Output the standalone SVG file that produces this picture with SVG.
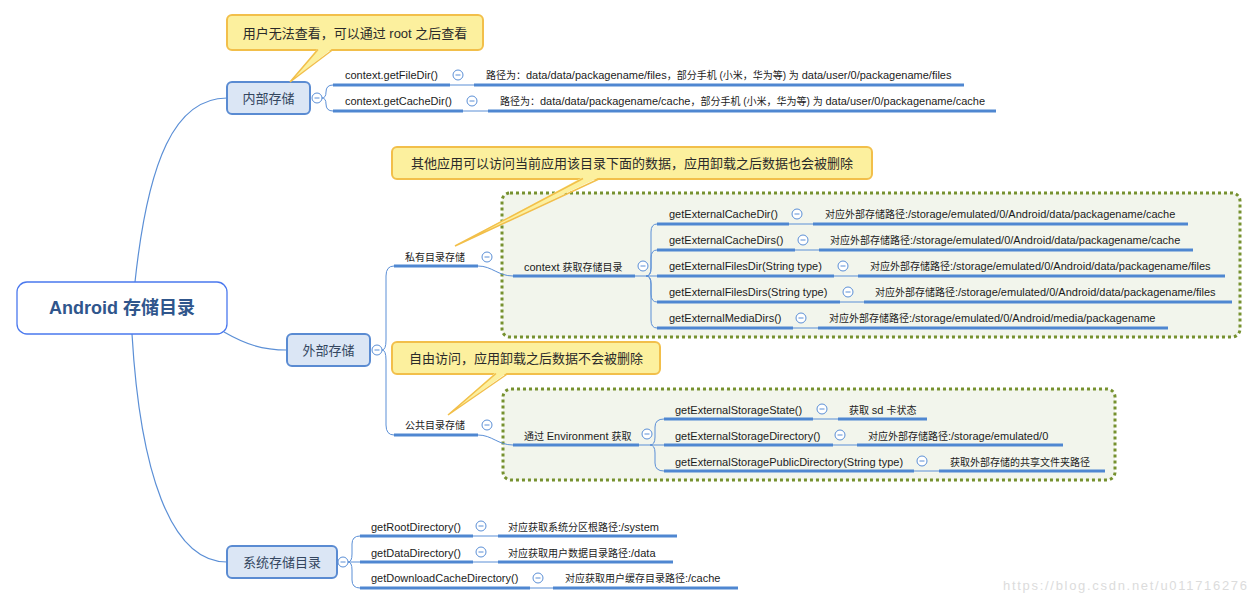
<svg xmlns="http://www.w3.org/2000/svg" width="1257" height="605" viewBox="0 0 1257 605">
<style>
text{font-family:"Liberation Sans","Noto Sans CJK SC",sans-serif;}
.lbl{font-size:11px;fill:#1c1c1c;}
.c{font-size:10px;}
.topic{font-size:13px;fill:#34465f;text-anchor:middle;}
.call{font-size:13px;fill:#2a2a2a;text-anchor:middle;}
.ul{stroke:#4f87d1;stroke-width:3;fill:none;}
.thin{stroke:#5b8fd6;stroke-width:1;fill:none;}
.curve{stroke:#5b8fd6;stroke-width:1.2;fill:none;}
.tbox{fill:#dbe6f5;stroke:#5a8bd2;stroke-width:2;}
.cbox{fill:#fcf09e;stroke:#f2bf4a;stroke-width:2;}
.ptr{fill:#fcf09e;stroke:none;}
.ptrs{stroke:#f2bf4a;stroke-width:1.5;fill:none;}
.dot{fill:#f2f5ec;stroke:#76912f;stroke-width:3;stroke-dasharray:3 3;}
.col circle{fill:#fff;stroke:#5b8fd6;stroke-width:1;}
.col line{stroke:#5b8fd6;stroke-width:1;}
</style>
<defs>
<g id="minus" class="col"><circle cx="0" cy="0" r="5"/><line x1="-2.5" y1="0" x2="2.5" y2="0"/></g>
</defs>
<rect width="1257" height="605" fill="#fff"/>

<!-- grouping boxes -->
<rect id="private-box" class="dot" x="502" y="193" width="738" height="144" rx="8"/>
<rect id="public-box" class="dot" x="503" y="389" width="612" height="91" rx="8"/>

<!-- connectors -->
<g id="connectors">
<path class="curve" d="M135,282 C148,160 175,98 227,98"/>
<path class="curve" d="M224,332 C245,344 262,350 287,350"/>
<path class="curve" d="M132,334 C140,470 170,562 227,562"/>
<path class="thin" d="M322,98 Q326,98 326,92 Q326,85 333,85"/>
<path class="thin" d="M322,98 Q326,98 326,104 Q326,111 333,111"/>
<path class="thin" d="M450,85 L474,85"/>
<path class="thin" d="M463,111 L488,111"/>
<path class="thin" d="M382,350 Q386,350 386,340 L386,276 Q386,266 394,266"/>
<path class="thin" d="M382,350 Q386,350 386,360 L386,425 Q386,435 394,435"/>
<path class="thin" d="M478,266 C492,266 498,276 513,276"/>
<path class="thin" d="M478,435 C492,435 498,445 513,445"/>
<path class="thin" d="M635,276 L657,276"/>
<path class="thin" d="M646,276 Q651,276 651,268 L651,232 Q651,224 657,224"/>
<path class="thin" d="M646,276 Q651,276 651,268 L651,258 Q651,250 657,250"/>
<path class="thin" d="M646,276 Q651,276 651,284 L651,294 Q651,302 657,302"/>
<path class="thin" d="M646,276 Q651,276 651,284 L651,320 Q651,328 657,328"/>
<path class="thin" d="M789,224 L813,224"/>
<path class="thin" d="M795,250 L819,250"/>
<path class="thin" d="M834,276 L858,276"/>
<path class="thin" d="M840,302 L864,302"/>
<path class="thin" d="M793,328 L818,328"/>
<path class="thin" d="M639,445 L664,445"/>
<path class="thin" d="M650,445 Q655,445 655,437 L655,427 Q655,419 664,419"/>
<path class="thin" d="M650,445 Q655,445 655,453 L655,463 Q655,471 664,471"/>
<path class="thin" d="M813,419 L838,419"/>
<path class="thin" d="M833,445 L857,445"/>
<path class="thin" d="M914,471 L939,471"/>
<path class="thin" d="M348,562 L360,562"/>
<path class="thin" d="M348,562 Q352,562 352,554 L352,544 Q352,536 360,536"/>
<path class="thin" d="M348,562 Q352,562 352,570 L352,580 Q352,588 360,588"/>
<path class="thin" d="M473,536 L498,536"/>
<path class="thin" d="M473,562 L498,562"/>
<path class="thin" d="M530,588 L553,588"/>
</g>

<!-- root -->
<g id="root">
<rect x="17" y="282" width="210" height="52" rx="10" fill="#fff" stroke="#4a78ee" stroke-width="1.3"/>
<text x="122" y="314" text-anchor="middle" font-size="18" font-weight="bold" fill="#30568c">Android 存储目录</text>
</g>

<!-- internal storage -->
<g id="internal">
<rect class="tbox" x="227" y="82" width="83" height="32" rx="5"/>
<text class="topic" x="268.5" y="102.5">内部存储</text>
<use href="#minus" x="317" y="98"/>
</g>
<g id="getFileDir">
<text class="lbl" x="345" y="79">context.getFileDir()</text>
<line class="ul" x1="333" y1="85" x2="450" y2="85"/>
<use href="#minus" x="458" y="75"/>
</g>
<g id="getFileDir-path">
<text class="lbl" x="486" y="79"><tspan class="c">路径为：</tspan>data/data/packagename/files<tspan class="c">，部分手机 (小米，华为等) 为 </tspan>data/user/0/packagename/files</text>
<line class="ul" x1="474" y1="85" x2="964" y2="85"/>
</g>
<g id="getCacheDir">
<text class="lbl" x="345" y="105">context.getCacheDir()</text>
<line class="ul" x1="333" y1="111" x2="463" y2="111"/>
<use href="#minus" x="472" y="101"/>
</g>
<g id="getCacheDir-path">
<text class="lbl" x="500" y="105"><tspan class="c">路径为：</tspan>data/data/packagename/cache<tspan class="c">，部分手机 (小米，华为等) 为 </tspan>data/user/0/packagename/cache</text>
<line class="ul" x1="488" y1="111" x2="996" y2="111"/>
</g>

<!-- external storage -->
<g id="external">
<rect class="tbox" x="287" y="334" width="83" height="32" rx="5"/>
<text class="topic" x="328.5" y="354.5">外部存储</text>
<use href="#minus" x="377" y="350"/>
</g>
<g id="private">
<text class="lbl c" x="405" y="260.5">私有目录存储</text>
<line class="ul" x1="394" y1="266" x2="478" y2="266"/>
<use href="#minus" x="487" y="257"/>
</g>
<g id="context-get">
<text class="lbl" x="524" y="270.5">context <tspan class="c">获取存储目录</tspan></text>
<line class="ul" x1="513" y1="276" x2="635" y2="276"/>
<use href="#minus" x="643" y="266"/>
</g>
<g id="p1">
<text class="lbl" x="669" y="218">getExternalCacheDir()</text>
<line class="ul" x1="657" y1="224" x2="789" y2="224"/>
<use href="#minus" x="797" y="214"/>
</g>
<g id="p1-path">
<text class="lbl" x="825" y="218"><tspan class="c">对应外部存储路径</tspan>:/storage/emulated/0/Android/data/packagename/cache</text>
<line class="ul" x1="813" y1="224" x2="1188" y2="224"/>
</g>
<g id="p2">
<text class="lbl" x="669" y="244">getExternalCacheDirs()</text>
<line class="ul" x1="657" y1="250" x2="795" y2="250"/>
<use href="#minus" x="803" y="240"/>
</g>
<g id="p2-path">
<text class="lbl" x="830" y="244"><tspan class="c">对应外部存储路径</tspan>:/storage/emulated/0/Android/data/packagename/cache</text>
<line class="ul" x1="819" y1="250" x2="1193" y2="250"/>
</g>
<g id="p3">
<text class="lbl" x="669" y="270">getExternalFilesDir(String type)</text>
<line class="ul" x1="657" y1="276" x2="834" y2="276"/>
<use href="#minus" x="843" y="266"/>
</g>
<g id="p3-path">
<text class="lbl" x="870" y="270"><tspan class="c">对应外部存储路径</tspan>:/storage/emulated/0/Android/data/packagename/files</text>
<line class="ul" x1="858" y1="276" x2="1225" y2="276"/>
</g>
<g id="p4">
<text class="lbl" x="669" y="296">getExternalFilesDirs(String type)</text>
<line class="ul" x1="657" y1="302" x2="840" y2="302"/>
<use href="#minus" x="848" y="292"/>
</g>
<g id="p4-path">
<text class="lbl" x="875" y="296"><tspan class="c">对应外部存储路径</tspan>:/storage/emulated/0/Android/data/packagename/files</text>
<line class="ul" x1="864" y1="302" x2="1232" y2="302"/>
</g>
<g id="p5">
<text class="lbl" x="669" y="322">getExternalMediaDirs()</text>
<line class="ul" x1="657" y1="328" x2="793" y2="328"/>
<use href="#minus" x="801" y="318"/>
</g>
<g id="p5-path">
<text class="lbl" x="829" y="322"><tspan class="c">对应外部存储路径</tspan>:/storage/emulated/0/Android/media/packagename</text>
<line class="ul" x1="818" y1="328" x2="1168" y2="328"/>
</g>

<g id="public">
<text class="lbl c" x="405" y="429">公共目录存储</text>
<line class="ul" x1="394" y1="435" x2="478" y2="435"/>
<use href="#minus" x="487" y="425"/>
</g>
<g id="env-get">
<text class="lbl" x="524" y="439.5"><tspan class="c">通过 </tspan>Environment <tspan class="c">获取</tspan></text>
<line class="ul" x1="513" y1="445" x2="639" y2="445"/>
<use href="#minus" x="647" y="434"/>
</g>
<g id="e1">
<text class="lbl" x="675" y="413.5">getExternalStorageState()</text>
<line class="ul" x1="664" y1="419" x2="813" y2="419"/>
<use href="#minus" x="822" y="409"/>
</g>
<g id="e1-desc">
<text class="lbl" x="849" y="413.5"><tspan class="c">获取 </tspan>sd <tspan class="c">卡状态</tspan></text>
<line class="ul" x1="838" y1="419" x2="927" y2="419"/>
</g>
<g id="e2">
<text class="lbl" x="675" y="440">getExternalStorageDirectory()</text>
<line class="ul" x1="664" y1="445" x2="833" y2="445"/>
<use href="#minus" x="840" y="435"/>
</g>
<g id="e2-desc">
<text class="lbl" x="868" y="440"><tspan class="c">对应外部存储路径</tspan>:/storage/emulated/0</text>
<line class="ul" x1="857" y1="445" x2="1063" y2="445"/>
</g>
<g id="e3">
<text class="lbl" x="675" y="465.5">getExternalStoragePublicDirectory(String type)</text>
<line class="ul" x1="664" y1="471" x2="914" y2="471"/>
<use href="#minus" x="922" y="461"/>
</g>
<g id="e3-desc">
<text class="lbl c" x="950" y="465.5">获取外部存储的共享文件夹路径</text>
<line class="ul" x1="939" y1="471" x2="1105" y2="471"/>
</g>

<!-- system storage -->
<g id="system">
<rect class="tbox" x="227" y="546" width="110" height="32" rx="5"/>
<text class="topic" x="282" y="566.5">系统存储目录</text>
<use href="#minus" x="343" y="562"/>
</g>
<g id="s1">
<text class="lbl" x="371" y="530.5">getRootDirectory()</text>
<line class="ul" x1="360" y1="536" x2="473" y2="536"/>
<use href="#minus" x="481" y="526"/>
</g>
<g id="s1-desc">
<text class="lbl" x="508" y="530.5"><tspan class="c">对应获取系统分区根路径</tspan>:/system</text>
<line class="ul" x1="498" y1="536" x2="677" y2="536"/>
</g>
<g id="s2">
<text class="lbl" x="371" y="556.5">getDataDirectory()</text>
<line class="ul" x1="360" y1="562" x2="473" y2="562"/>
<use href="#minus" x="481" y="552"/>
</g>
<g id="s2-desc">
<text class="lbl" x="508" y="556.5"><tspan class="c">对应获取用户数据目录路径</tspan>:/data</text>
<line class="ul" x1="498" y1="562" x2="673" y2="562"/>
</g>
<g id="s3">
<text class="lbl" x="371" y="582">getDownloadCacheDirectory()</text>
<line class="ul" x1="360" y1="588" x2="530" y2="588"/>
<use href="#minus" x="538" y="578"/>
</g>
<g id="s3-desc">
<text class="lbl" x="565" y="582"><tspan class="c">对应获取用户缓存目录路径</tspan>:/cache</text>
<line class="ul" x1="553" y1="588" x2="738" y2="588"/>
</g>

<!-- callouts -->
<g id="callout-internal">
<rect class="cbox" x="227" y="15" width="256" height="35" rx="5"/>
<path class="ptr" d="M318,48 L290,82 L333,48 Z"/>
<path class="ptrs" d="M318,49.5 L290,82 L333,49.5"/>
<text class="call" x="355" y="37.5">用户无法查看，可以通过 root 之后查看</text>
</g>
<g id="callout-private">
<rect class="cbox" x="392" y="147" width="480" height="32" rx="5"/>
<path class="ptr" d="M583,177 L455,246 L600,177 Z"/>
<path class="ptrs" d="M583,178.5 L455,246 L600,178.5"/>
<text class="call" x="632" y="167.5">其他应用可以访问当前应用该目录下面的数据，应用卸载之后数据也会被删除</text>
</g>
<g id="callout-public">
<rect class="cbox" x="392" y="342" width="268" height="32" rx="5"/>
<path class="ptr" d="M496,372 L448,415 L508,372 Z"/>
<path class="ptrs" d="M496,373.5 L448,415 L508,373.5"/>
<text class="call" x="526" y="362.5">自由访问，应用卸载之后数据不会被删除</text>
</g>

<text x="1003" y="590" font-size="13" fill="#dcdcdc" textLength="244">https://blog.csdn.net/u011716276</text>
</svg>
